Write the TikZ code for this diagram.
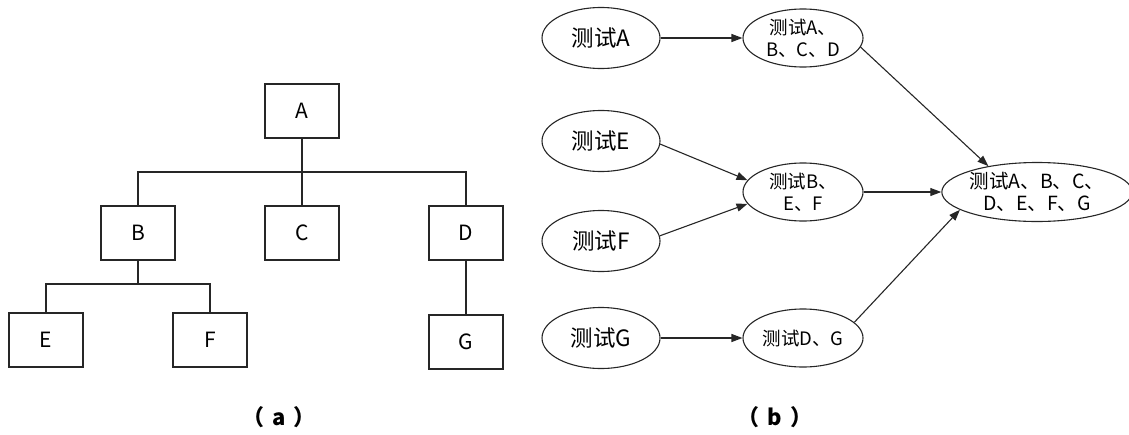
\documentclass[tikz,border=0pt]{standalone}
\usepackage{fontspec}
\newfontfamily\cjk{Noto Sans CJK SC}
\usetikzlibrary{shapes.geometric,arrows.meta}
\begin{document}
\begin{tikzpicture}[x=1pt,y=-1pt,
  every node/.style={font=\cjk},
  box/.style={draw=black!85,line width=1.3pt,minimum width=74pt,minimum height=54pt,inner sep=0pt,font=\cjk\fontsize{21}{23}\selectfont},
  ell/.style={draw=black!85,line width=1.1pt,ellipse,inner sep=0pt,minimum width=118pt,minimum height=61pt,font=\cjk\fontsize{22.5}{24}\selectfont},
  mell/.style={draw=black!85,line width=1.1pt,ellipse,inner sep=0pt,minimum width=120pt,minimum height=58pt,align=center,font=\cjk\fontsize{18.5}{22}\selectfont},
  tree/.style={draw=black!85,line width=1.3pt},
  arr/.style={draw=black!85,line width=1.1pt,-{Triangle[length=11pt,width=8pt]}},
  captxt/.style={font=\cjk\bfseries\fontsize{22}{24}\selectfont}
]
\useasboundingbox (0,0) rectangle (1129,434);
% (a) tree
\node[box] (A) at (302,111) {A};
\node[box] (B) at (138,233) {B};
\node[box] (C) at (302,233) {C};
\node[box] (D) at (466,233) {D};
\node[box] (E) at (46,340) {E};
\node[box] (F) at (210,340) {F};
\node[box] (G) at (466,342) {G};
\coordinate (j1) at (302,172);
\coordinate (j2) at (138,284);
\draw[tree] (A.south) -- (C.north);
\draw[tree] (B.north) |- (j1) -| (D.north);
\draw[tree] (B.south) -- (j2);
\draw[tree] (E.north) |- (j2) -| (F.north);
\draw[tree] (D.south) -- (G.north);
% (b) graph
\node[ell] (tA) at (601,38) {测试A};
\node[ell] (tE) at (601,141) {测试E};
\node[ell] (tF) at (601,241) {测试F};
\node[ell] (tG) at (601,338) {测试G};
\node[mell] (mAD) at (803,38) {测试A、\\B、C、D};
\node[mell] (mBEF) at (803,192) {测试B、\\E、F};
\node[mell] (mDG) at (803,338) {测试D、G};
\node[mell,minimum width=181pt,minimum height=59pt,font=\cjk\fontsize{19.5}{22}\selectfont] (fin) at (1037,192) {测试A、B、C、\\D、E、F、G};
\draw[arr] (tA.east) -- (mAD.west);
\draw[arr] (tE.-3) -- (mBEF.168);
\draw[arr] (tF.5) -- (mBEF.192);
\draw[arr] (tG.east) -- (mDG.west);
\draw[arr] (mAD.-9) -- (fin.152);
\draw[arr] (mBEF.east) -- (fin.west);
\draw[arr] (mDG.17) -- (fin.193);
\node[captxt] (ca) at (279,417) {（\hspace{8pt}a\hspace{8pt}）};
\node[captxt] (cb) at (775,417) {（\hspace{8pt}b\hspace{8pt}）};
\end{tikzpicture}
\end{document}
